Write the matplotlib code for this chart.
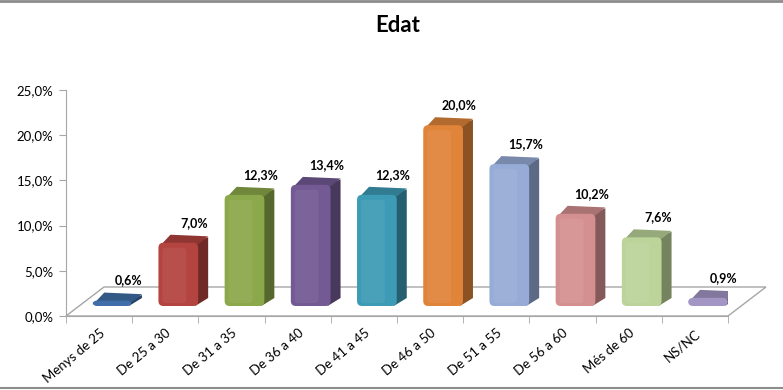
import matplotlib
matplotlib.use("Agg")
import matplotlib.pyplot as plt
from matplotlib.patches import FancyBboxPatch, Polygon
from matplotlib.transforms import ScaledTranslation
import numpy as np

categories = ["Menys de 25", "De 25 a 30", "De 31 a 35", "De 36 a 40", "De 41 a 45",
              "De 46 a 50", "De 51 a 55", "De 56 a 60", "Més de 60", "NS/NC"]
values = [0.6, 7.0, 12.3, 13.4, 12.3, 20.0, 15.7, 10.2, 7.6, 0.9]
colors = ["#3f6ea8", "#b3443f", "#8ba84a", "#735a94", "#3d9bb5",
          "#e0843a", "#96abd6", "#d49090", "#bcd39a", "#a396c4"]
yticks = [0, 5, 10, 15, 20, 25]

plt.rcParams['font.family'] = ['Lato', 'DejaVu Sans']

W, H = 783, 390
fig = plt.figure(figsize=(W / 100, H / 100), dpi=100)
# front plane of plot in pixels
x0, x1 = 66, 728
y0, y1 = 316, 90
ax = fig.add_axes([x0 / W, (H - y0) / H, (x1 - x0) / W, (y0 - y1) / H])
n = len(categories)
ax.set_xlim(-0.5, n - 0.5)
ax.set_ylim(0, 25)
ax.set_facecolor("none")

xpp = n / (x1 - x0)          # data x per pixel
ypp = 25 / (y0 - y1)         # data y per pixel

# floor parallelogram
fdx, fdy = 38 / (x1 - x0), 29 / (y0 - y1)
floor = Polygon([(0, 0), (1, 0), (1 + fdx, fdy), (fdx, fdy)], closed=True,
                transform=ax.transAxes, facecolor="white", edgecolor="#a6a6a6",
                lw=1.0, clip_on=False, zorder=0)
ax.add_patch(floor)

for s in ["top", "right"]:
    ax.spines[s].set_visible(False)
for s in ["left", "bottom"]:
    ax.spines[s].set_color("#a6a6a6")

ax.set_yticks(yticks)
ax.set_yticklabels([f"{v:.1f}%".replace(".", ",") for v in yticks], fontsize=9.5)
ax.tick_params(axis="y", length=5, color="#a6a6a6", pad=4)
xs = np.arange(n)
ax.set_xticks(xs)
ax.set_xticklabels(categories, rotation=40, ha="right", va="top",
                   rotation_mode="anchor", fontsize=9.5)
ax.tick_params(axis="x", length=0, pad=8)
ax.set_xticks(np.arange(-0.5, n), minor=True)
ax.tick_params(axis="x", which="minor", length=5, color="#a6a6a6")

# bars shifted into mid-depth
offset = ScaledTranslation(13 / 100, 10 / 100, fig.dpi_scale_trans)
tr = ax.transData + offset
bw = 0.6
bars = ax.bar(xs, values, width=bw, color=colors, transform=tr, zorder=2)
ddx, ddy = 10 * xpp, 8 * ypp


def shade(c, f):
    r, g, b = matplotlib.colors.to_rgb(c)
    return (r * f, g * f, b * f)


def tint(c, f):
    r, g, b = matplotlib.colors.to_rgb(c)
    return (r + (1 - r) * f, g + (1 - g) * f, b + (1 - b) * f)


for rect, c, v in zip(bars, colors, values):
    rect.set_visible(False)
    bx, by, w, h = rect.get_x(), rect.get_y(), rect.get_width(), rect.get_height()
    side = Polygon([(bx + w - 0.3 * ddx, by), (bx + w - 0.3 * ddx, by + h),
                    (bx + w + ddx, by + h + ddy * 0.7), (bx + w + ddx, by + ddy)],
                   closed=True, facecolor=shade(c, 0.62), edgecolor="none",
                   transform=tr, zorder=2, joinstyle="round")
    top = Polygon([(bx + 0.3 * ddx, by + h - 0.2 * ddy), (bx + w, by + h - 0.2 * ddy),
                   (bx + w + ddx, by + h + ddy * 0.8), (bx + ddx * 1.2, by + h + ddy)],
                  closed=True, facecolor=shade(c, 0.8), edgecolor="none",
                  transform=tr, zorder=2)
    ax.add_patch(side)
    ax.add_patch(top)
    front = FancyBboxPatch((bx, by), w, h,
                           boxstyle=f"round,pad=0,rounding_size={5 * xpp}",
                           mutation_aspect=ypp / xpp, facecolor=c,
                           edgecolor="none", transform=tr, zorder=3)
    ax.add_patch(front)
    hl = FancyBboxPatch((bx + w * 0.1, by + 3 * ypp), w * 0.6, max(h - 8 * ypp, 0.05),
                        boxstyle=f"round,pad=0,rounding_size={3 * xpp}",
                        mutation_aspect=ypp / xpp, facecolor=tint(c, 0.06),
                        edgecolor="none", transform=tr, zorder=3)
    if h > 1.5:
        ax.add_patch(hl)
    ax.annotate(f"{v:.1f}%".replace(".", ","), xy=(bx + w / 2, by + h),
                xycoords=tr, xytext=(16, 20), textcoords="offset pixels",
                ha="center", va="center", fontsize=9, fontweight="bold",
                color="black", zorder=5)

fig.text(398 / W, 1 - 26 / H, "Edat", ha="center", va="center",
         fontsize=16, fontweight="bold")

# frame lines top and bottom
fig.add_artist(plt.Line2D([0, 1], [1 - 0.5 / H, 1 - 0.5 / H], color="#8c8c8c", lw=2,
                          transform=fig.transFigure))
fig.add_artist(plt.Line2D([0, 1], [2 / H, 2 / H], color="#8c8c8c", lw=1.5,
                          transform=fig.transFigure))

fig.savefig("out.png", dpi=100)
